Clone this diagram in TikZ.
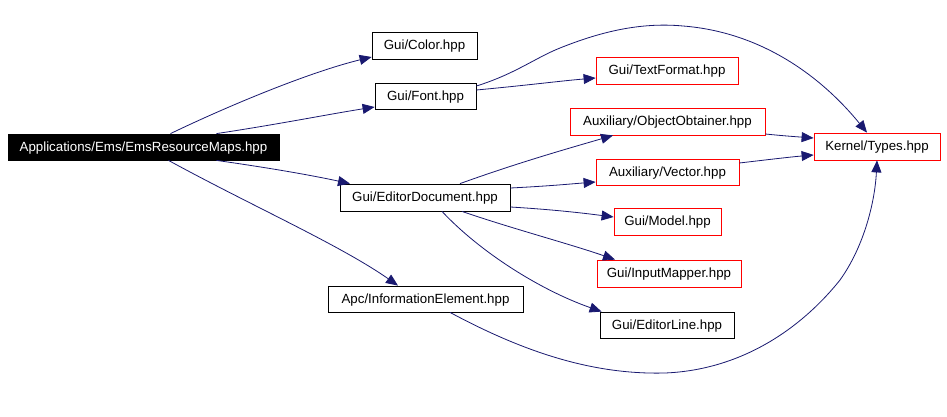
\documentclass[tikz,border=0pt]{standalone}
\usepackage{fontspec}
\setmainfont{Liberation Sans}
\usetikzlibrary{arrows.meta}
\definecolor{edgecol}{HTML}{191970}
\tikzset{
  box/.style={draw=black, line width=0.8pt, inner sep=0pt, text height=9.5pt, text depth=1pt, font=\fontsize{13.3}{15}\selectfont},
  redbox/.style={box, draw=red},
  mainbox/.style={box, fill=black, text=white},
  dep/.style={draw=edgecol, line width=0.8pt, -{Triangle[length=12pt,width=10pt]}, fill=none},
}
\begin{document}
\begin{tikzpicture}[x=1pt,y=-1pt]
\useasboundingbox (0,0) rectangle (947,417);
\fill[white] (0,0) rectangle (947,417);
\node[mainbox, minimum width=271pt, minimum height=26pt] (main) at (143.5,147) {Applications/Ems/EmsResourceMaps.hpp};
\node[box, minimum width=105pt, minimum height=27pt] (color) at (424.5,45.5) {Gui/Color.hpp};
\node[box, minimum width=101pt, minimum height=26pt] (font) at (425.5,96) {Gui/Font.hpp};
\node[redbox, minimum width=142pt, minimum height=27pt] (textformat) at (667,70.5) {Gui/TextFormat.hpp};
\node[redbox, minimum width=195pt, minimum height=27pt] (objobt) at (667.5,121.5) {Auxiliary/ObjectObtainer.hpp};
\node[redbox, minimum width=126pt, minimum height=27pt] (types) at (877,146.5) {Kernel/Types.hpp};
\node[redbox, minimum width=143pt, minimum height=26pt] (vector) at (667.5,172) {Auxiliary/Vector.hpp};
\node[box, minimum width=170pt, minimum height=27pt] (editordoc) at (425,197.5) {Gui/EditorDocument.hpp};
\node[redbox, minimum width=107pt, minimum height=27pt] (model) at (667.5,221.5) {Gui/Model.hpp};
\node[redbox, minimum width=144pt, minimum height=27pt] (inputmapper) at (669,273.5) {Gui/InputMapper.hpp};
\node[box, minimum width=134pt, minimum height=26pt] (editorline) at (667,325) {Gui/EditorLine.hpp};
\node[box, minimum width=195pt, minimum height=26pt] (apc) at (425.5,299) {Apc/InformationElement.hpp};

\draw[dep] ([xshift=27pt]main.north) .. controls (230,105) and (310,72) .. ([yshift=-11.5pt]color.west);
\draw[dep] ([xshift=73pt]main.north) .. controls (280,124) and (330,114) .. ([yshift=-11pt]font.west);
\draw[dep] ([xshift=73pt]main.south) .. controls (270,168) and (310,175) .. ([xshift=-75pt]editordoc.north);
\draw[dep] ([xshift=25pt]main.south) .. controls (250,205) and (340,245) .. ([xshift=-27.5pt]apc.north);
\draw[dep] ([yshift=6pt]font.east) .. controls (530,85) and (560,81) .. ([yshift=-7.5pt]textformat.west);
\draw[dep] ([yshift=10pt]font.east) .. controls (515,74) and (535,58) .. (560,48)
  .. controls (600,32) and (640,22) .. (683,26)
  .. controls (760,32) and (820,75) .. ([xshift=-10pt]types.north);
\draw[dep] ([xshift=35pt]editordoc.north) .. controls (520,162) and (570,148) .. ([xshift=-54.5pt]objobt.south);
\draw[dep] ([yshift=9.5pt]editordoc.east) .. controls (550,186) and (570,184) .. ([yshift=-10pt]vector.west);
\draw[dep] ([yshift=-9.5pt]editordoc.east) .. controls (560,210) and (590,214) .. ([yshift=4.5pt]model.west);
\draw[dep] ([xshift=37pt]editordoc.south) .. controls (510,228) and (570,244) .. ([xshift=-54pt]inputmapper.north);
\draw[dep] ([xshift=17pt]editordoc.south) .. controls (480,252) and (540,290) .. ([xshift=2pt]editorline.north west);
\draw[dep] ([yshift=-12.5pt]objobt.east) .. controls (785,136) and (800,137) .. ([yshift=8.5pt]types.west);
\draw[dep] ([yshift=9pt]vector.east) .. controls (765,160) and (790,157) .. ([yshift=-8.5pt]types.west);
\draw[dep] ([xshift=24.5pt]apc.south) .. controls (520,350) and (590,375) .. (665,373)
  .. controls (740,370) and (800,330) .. (840,280)
  .. controls (865,245) and (875,200) .. (types.south);
\end{tikzpicture}
\end{document}
